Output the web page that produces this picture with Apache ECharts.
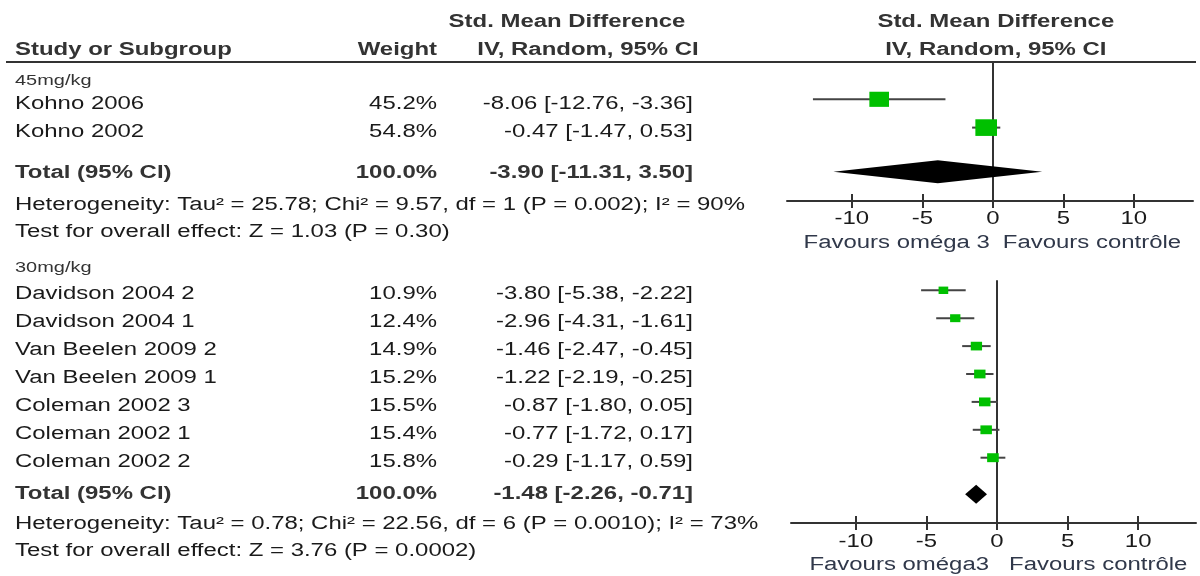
<!DOCTYPE html>
<html>
<head>
<meta charset="utf-8">
<script src="https://cdn.jsdelivr.net/npm/echarts@6/dist/echarts.min.js"></script>
<style>
  html, body { margin: 0; padding: 0; background: #fff; }
  #c { width: 1200px; height: 576px; }
</style>
</head>
<body>
<div id="c"></div>
<script>
// ---- 45 mg/kg subgroup ----
const studies45 = ['Kohno 2006', 'Kohno 2002'];
const weights45 = [45.2, 54.8];
const smd45 = [-8.06, -0.47];
const lo45 = [-12.76, -1.47];
const hi45 = [-3.36, 0.53];
const total45 = [-3.90, -11.31, 3.50];           // estimate, lower, upper
const totalWeight45 = 100.0;
const het45 = 'Heterogeneity: Tau² = 25.78; Chi² = 9.57, df = 1 (P = 0.002); I² = 90%';
const test45 = 'Test for overall effect: Z = 1.03 (P = 0.30)';

// ---- 30 mg/kg subgroup ----
const studies30 = ['Davidson 2004 2', 'Davidson 2004 1', 'Van Beelen 2009 2', 'Van Beelen 2009 1',
                   'Coleman 2002 3', 'Coleman 2002 1', 'Coleman 2002 2'];
const weights30 = [10.9, 12.4, 14.9, 15.2, 15.5, 15.4, 15.8];
const smd30 = [-3.80, -2.96, -1.46, -1.22, -0.87, -0.77, -0.29];
const lo30 = [-5.38, -4.31, -2.47, -2.19, -1.80, -1.72, -1.17];
const hi30 = [-2.22, -1.61, -0.45, -0.25, 0.05, 0.17, 0.59];
const total30 = [-1.48, -2.26, -0.71];
const totalWeight30 = 100.0;
const het30 = 'Heterogeneity: Tau² = 0.78; Chi² = 22.56, df = 6 (P = 0.0010); I² = 73%';
const test30 = 'Test for overall effect: Z = 3.76 (P = 0.0002)';

// ---- axis / labels ----
const tickValues = [-10, -5, 0, 5, 10];
const favoursLeft = ['Favours oméga 3', 'Favours oméga3'];
const favoursRight = 'Favours contrôle';

// ---- styling & layout ----
const FONT = '"Liberation Sans", Arial, Helvetica, sans-serif';
const FS = 18;               // base font size
const SX = 1.33;             // horizontal stretch of all lettering
const TXT = '#1a1a1a';
const HEAD = '#333333';
const FAV = '#30384a';
const GREEN = '#00c000';
const LINE = '#333333';

const panels = [
  {
    label: '45mg/kg', studies: studies45, weights: weights45, smd: smd45, lo: lo45, hi: hi45,
    total: total45, totalWeight: totalWeight45, het: het45, test: test45, favLeft: favoursLeft[0],
    grid: { left: 787, top: 62, width: 406, height: 139 },
    xMin: -14.6, xMax: 14.2, rowH: 28.3, firstRowPx: 37.3, totalRow: 2.56, diamondH: 23,
    subY: 81, rowY0: 104, rowStep: 28, totalY: 173.5, hetY: 205, testY: 232,
    tickY: 219, favY: 243, favGapL: 3, favGapR: 10
  },
  {
    label: '30mg/kg', studies: studies30, weights: weights30, smd: smd30, lo: lo30, hi: hi30,
    total: total30, totalWeight: totalWeight30, het: het30, test: test30, favLeft: favoursLeft[1],
    grid: { left: 791, top: 281, width: 405, height: 242 },
    xMin: -14.6, xMax: 14.1, rowH: 27.9, firstRowPx: 9.3, totalRow: 7.31, diamondH: 19,
    subY: 268, rowY0: 294, rowStep: 28, totalY: 494, hetY: 524, testY: 551,
    tickY: 542, favY: 565, favGapL: 8, favGapR: 12
  }
];

const fmtCI = (e, l, h) => e.toFixed(2) + ' [' + l.toFixed(2) + ', ' + h.toFixed(2) + ']';

function txt(str, x, y, opt) {
  opt = opt || {};
  const align = opt.align || 'left';
  return {
    type: 'text', x: x, y: y, scaleX: SX, silent: true, z: 10,
    style: {
      text: str, x: 0, y: 0,
      fill: opt.color || TXT,
      font: (opt.bold ? 'bold ' : '') + (opt.size || FS) + 'px ' + FONT,
      align: align, verticalAlign: 'middle',
      textAlign: align, textVerticalAlign: 'middle'
    }
  };
}

const chart = echarts.init(document.getElementById('c'));

const grid = [], xAxis = [], yAxis = [], series = [];
panels.forEach((p, i) => {
  grid.push({ left: p.grid.left, top: p.grid.top, width: p.grid.width, height: p.grid.height,
              containLabel: false, outerBoundsMode: 'none' });
  // main axis: line + ticks pointing down
  xAxis.push({
    type: 'value', gridIndex: i, min: p.xMin, max: p.xMax, position: 'bottom',
    axisLine: { show: true, onZero: false, lineStyle: { color: LINE, width: 2 } },
    axisTick: { show: true, customValues: tickValues, length: 7, inside: false, lineStyle: { color: LINE, width: 2 } },
    axisLabel: { show: false }, splitLine: { show: false }
  });
  // companion axis: ticks pointing up, so each tick crosses the line
  xAxis.push({
    type: 'value', gridIndex: i, min: p.xMin, max: p.xMax, position: 'bottom',
    axisLine: { show: false, onZero: false },
    axisTick: { show: true, customValues: tickValues, length: 7, inside: true, lineStyle: { color: LINE, width: 2 } },
    axisLabel: { show: false }, splitLine: { show: false }
  });
  const yMin = -p.firstRowPx / p.rowH;
  yAxis.push({
    type: 'value', gridIndex: i, inverse: true, min: yMin, max: yMin + p.grid.height / p.rowH,
    axisLine: { show: true, onZero: true, onZeroAxisIndex: 2 * i, lineStyle: { color: LINE, width: 2 } },
    axisTick: { show: false }, axisLabel: { show: false }, splitLine: { show: false }
  });

  // confidence intervals
  series.push({
    type: 'custom', xAxisIndex: 2 * i, yAxisIndex: i, z: 2,
    data: p.studies.map((s, k) => [p.lo[k], p.hi[k], k]),
    encode: { x: [0, 1], y: 2 },
    renderItem: (params, api) => {
      const a = api.coord([api.value(0), api.value(2)]);
      const b = api.coord([api.value(1), api.value(2)]);
      return { type: 'line', shape: { x1: a[0], y1: a[1], x2: b[0], y2: b[1] },
               style: { stroke: '#444', lineWidth: 2 } };
    }
  });
  // study estimates, square size follows weight
  series.push({
    type: 'scatter', xAxisIndex: 2 * i, yAxisIndex: i, z: 3,
    symbol: 'rect',
    symbolSize: v => { const h = 2.25 * Math.sqrt(v[2]); return [h * 1.3, h]; },
    itemStyle: { color: GREEN, opacity: 1 },
    data: p.studies.map((s, k) => [p.smd[k], k, p.weights[k]])
  });
  // pooled estimate diamond
  series.push({
    type: 'custom', xAxisIndex: 2 * i, yAxisIndex: i, z: 3,
    data: [[p.total[0], p.total[1], p.total[2], p.totalRow]],
    encode: { x: [0, 1, 2], y: 3 },
    renderItem: (params, api) => {
      const row = api.value(3);
      const c = api.coord([api.value(0), row]);
      const l = api.coord([api.value(1), row]);
      const r = api.coord([api.value(2), row]);
      const hh = p.diamondH / 2;
      return { type: 'polygon',
               shape: { points: [[l[0], c[1]], [c[0], c[1] - hh], [r[0], c[1]], [c[0], c[1] + hh]] },
               style: { fill: '#000' } };
    }
  });
});

chart.setOption({ animation: false, grid, xAxis, yAxis, series });

// ---- table text, headers and axis annotations ----
const g = [];
const zero0 = chart.convertToPixel({ xAxisIndex: 0 }, 0);

g.push(txt('Std. Mean Difference', 567, 22, { bold: true, color: HEAD, align: 'center' }));
g.push(txt('Study or Subgroup', 15, 50, { bold: true, color: HEAD }));
g.push(txt('Weight', 437, 50, { bold: true, color: HEAD, align: 'right' }));
g.push(txt('IV, Random, 95% CI', 588, 50, { bold: true, color: HEAD, align: 'center' }));
g.push(txt('Std. Mean Difference', zero0 + 3, 22, { bold: true, color: HEAD, align: 'center' }));
g.push(txt('IV, Random, 95% CI', zero0 + 3, 50, { bold: true, color: HEAD, align: 'center' }));
g.push({ type: 'line', silent: true, shape: { x1: 6, y1: 62, x2: 1196, y2: 62 },
         style: { stroke: LINE, lineWidth: 2 } });

panels.forEach((p, i) => {
  g.push(txt(p.label, 15, p.subY, { size: 15, color: HEAD }));
  p.studies.forEach((s, k) => {
    const y = p.rowY0 + k * p.rowStep;
    g.push(txt(s, 15, y));
    g.push(txt(p.weights[k].toFixed(1) + '%', 437, y, { align: 'right' }));
    g.push(txt(fmtCI(p.smd[k], p.lo[k], p.hi[k]), 693, y, { align: 'right' }));
  });
  g.push(txt('Total (95% CI)', 15, p.totalY, { bold: true, color: HEAD }));
  g.push(txt(p.totalWeight.toFixed(1) + '%', 437, p.totalY, { bold: true, color: HEAD, align: 'right' }));
  g.push(txt(fmtCI(p.total[0], p.total[1], p.total[2]), 693, p.totalY, { bold: true, color: HEAD, align: 'right' }));
  g.push(txt(p.het, 15, p.hetY));
  g.push(txt(p.test, 15, p.testY));

  // tick labels placed through the axis scale
  tickValues.forEach(v => {
    const x = chart.convertToPixel({ xAxisIndex: 2 * i }, v);
    g.push(txt(String(v), x, p.tickY, { align: 'center' }));
  });
  const z = chart.convertToPixel({ xAxisIndex: 2 * i }, 0);
  g.push(txt(p.favLeft, z - p.favGapL, p.favY, { color: FAV, align: 'right' }));
  g.push(txt(favoursRight, z + p.favGapR, p.favY, { color: FAV, align: 'left' }));
});

chart.setOption({ graphic: { elements: g } });
</script>
</body>
</html>
